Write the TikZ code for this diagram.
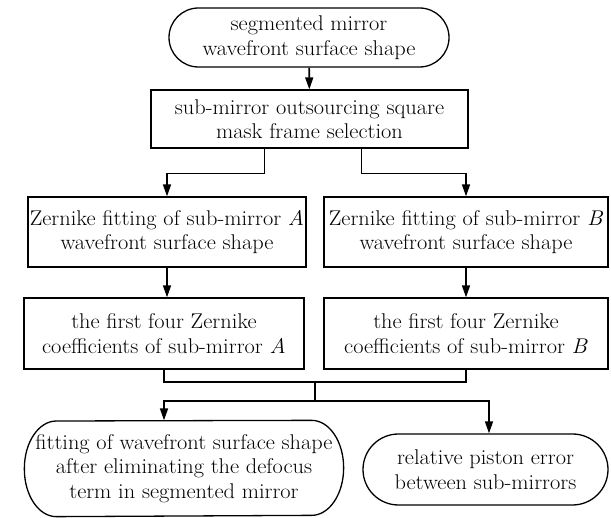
\documentclass[tikz,border=0pt]{standalone}
\usepackage{fontspec}
\setmainfont{Latin Modern Roman}[FakeStretch=1.05]
\usepackage{tikz}
\usetikzlibrary{shapes.misc,arrows.meta}

\tikzset{
	base/.style={draw, line width=1.3pt, align=center, inner sep=0pt,
		font=\fontsize{21.3}{24.5}\selectfont},
	box/.style={base, rectangle},
	term/.style={base, rounded rectangle},
	oval/.style={base, draw=none, rectangle},
	line/.style={line width=1.6pt},
	arr/.style={line, -{Triangle[length=12pt,width=8pt]}}
}

\begin{document}
\begin{tikzpicture}[x=1pt,y=-1pt]
		\useasboundingbox (0,0) rectangle (611,518);
		% nodes
		\node[term, minimum width=280, minimum height=59] (top) at (309,37.5) {segmented mirror\\wavefront surface shape};
		\node[box, minimum width=317, minimum height=58] (sel) at (309.5,119) {sub-mirror outsourcing square\\mask frame selection};
		\node[box, minimum width=278, minimum height=70] (fitA) at (167,232) {Zernike fitting of sub-mirror \textit{A}\\wavefront surface shape};
		\node[box, minimum width=284, minimum height=70] (fitB) at (466,232) {Zernike fitting of sub-mirror \textit{B}\\wavefront surface shape};
		\node[box, minimum width=280, minimum height=71] (coefA) at (164,333.5) {the first four Zernike\\coefficients of sub-mirror \textit{A}};
		\node[box, minimum width=284, minimum height=71] (coefB) at (466,333.5) {the first four Zernike\\coefficients of sub-mirror \textit{B}};
		\node[oval, minimum width=318, minimum height=95] (defoc) at (184,468.5) {fitting of wavefront surface shape\\after eliminating the defocus\\term in segmented mirror};
		\node[term, minimum width=245, minimum height=71] (piston) at (485.5,469.5) {relative piston error\\between sub-mirrors};
		\coordinate (join) at (315,382);
		\coordinate (split) at (315,401);
		% outline of the flat oval
		\draw[line width=1.3pt] (defoc.west)
			arc[start angle=180, end angle=90, x radius=32pt, y radius=47.5pt]
			-- ([xshift=-32pt]defoc.north east)
			arc[start angle=90, end angle=-90, x radius=32pt, y radius=47.5pt]
			-- ([xshift=32pt]defoc.south west)
			arc[start angle=270, end angle=180, x radius=32pt, y radius=47.5pt] -- cycle;
		% connectors
		\draw[arr] (top) -- (sel);
		\draw[arr] ([xshift=-45pt]sel.south) -- ++(0,25) -| (fitA.north);
		\draw[arr] ([xshift=52pt]sel.south) -- ++(0,25) -| (fitB.north);
		\draw[arr] (fitA.south) -- (fitA.south |- coefA.north);
		\draw[arr] (fitB.south) -- (coefB.north);
		\draw[line] (coefA.south) |- (join) -| (coefB.south);
		\draw[line] (join) -- (split);
		\draw[arr] (split) -| ([xshift=-20pt]defoc.north);
		\draw[arr] (split) -| ([xshift=3.5pt]piston.north);
	\end{tikzpicture}
\end{document}
